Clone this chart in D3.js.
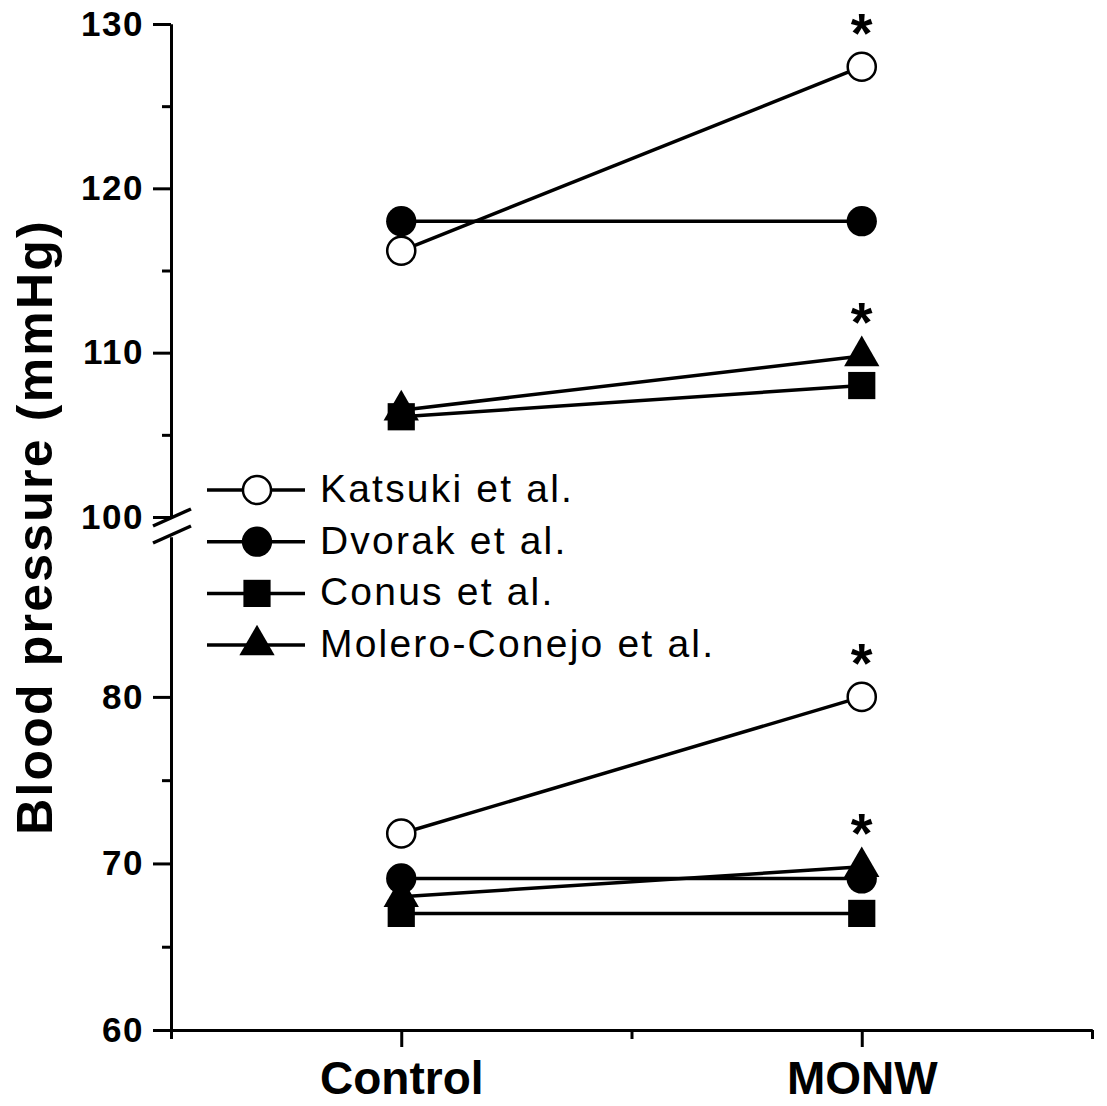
<!DOCTYPE html>
<html>
<head>
<meta charset="utf-8">
<script src="https://cdn.jsdelivr.net/npm/d3@7"></script>
<style>
  body { margin: 0; background: #fff; }
  svg text { font-family: "Liberation Sans", Arial, Helvetica, sans-serif; }
</style>
</head>
<body>
<svg id="chart" width="1107" height="1106"></svg>
<script>
// study names, in legend order
const studies = ["Katsuki et al.", "Dvorak et al.", "Conus et al.", "Molero-Conejo et al."];
const markers = ["openCircle", "circle", "square", "triangle"];
const groups = ["Control", "MONW"];

// systolic (upper panel) and diastolic (lower panel), [Control, MONW]
const systolic = [
  [116.2, 127.4],
  [118.0, 118.0],
  [106.1, 108.0],
  [106.5, 109.8],
];
const diastolic = [
  [71.8, 80.0],
  [69.1, 69.1],
  [67.0, 67.0],
  [68.0, 69.8],
];

// significant changes (study index, panel)
const stars = [
  { study: 0, panel: "sys" },
  { study: 3, panel: "sys" },
  { study: 0, panel: "dia" },
  { study: 3, panel: "dia" },
];

const upperTicks = [100, 110, 120, 130];
const upperMinor = [105, 115, 125];
const lowerTicks = [60, 70, 80];
const lowerMinor = [65, 75];

const svg = d3.select("#chart");

const x = d3.scaleLinear().domain([0.5, 2.5]).range([171, 1092]);
const yUp = d3.scaleLinear().domain([100, 130]).range([517, 24]);
const yLow = d3.scaleLinear().domain([60, 89.6]).range([1030, 537]);

// ---- axes ----
const axisG = svg.append("g");

function styleAxis(g) {
  g.select(".domain").attr("stroke", "#000").attr("stroke-width", 3);
  g.selectAll(".tick line").attr("stroke", "#000").attr("stroke-width", 3);
  g.selectAll(".tick text")
    .attr("fill", "#000")
    .style("font-weight", "bold");
}

const yTickText = (g) => g.selectAll(".tick text")
  .style("font-size", "35px")
  .style("letter-spacing", "1.5px");

axisG.append("g")
  .attr("transform", `translate(${x.range()[0]},0)`)
  .call(d3.axisLeft(yUp).tickValues(upperMinor).tickSize(9).tickSizeOuter(0).tickFormat(""))
  .call(styleAxis);
axisG.append("g")
  .attr("transform", `translate(${x.range()[0]},0)`)
  .call(d3.axisLeft(yUp).tickValues(upperTicks).tickSize(18).tickPadding(9).tickSizeOuter(0))
  .call(styleAxis)
  .call(yTickText);

axisG.append("g")
  .attr("transform", `translate(${x.range()[0]},0)`)
  .call(d3.axisLeft(yLow).tickValues(lowerMinor).tickSize(9).tickSizeOuter(0).tickFormat(""))
  .call(styleAxis);
axisG.append("g")
  .attr("transform", `translate(${x.range()[0]},0)`)
  .call(d3.axisLeft(yLow).tickValues(lowerTicks).tickSize(18).tickPadding(9).tickSizeOuter(0))
  .call(styleAxis)
  .call(yTickText);

axisG.append("g")
  .attr("transform", `translate(0,${yLow(60)})`)
  .call(d3.axisBottom(x).tickValues([0.5, 1.5, 2.5]).tickSize(9).tickSizeOuter(0).tickFormat(""))
  .call(styleAxis);
axisG.append("g")
  .attr("transform", `translate(0,${yLow(60)})`)
  .call(d3.axisBottom(x).tickValues([1, 2]).tickSize(17).tickPadding(14).tickSizeOuter(0)
    .tickFormat((d) => groups[d - 1]))
  .call(styleAxis)
  .call((g) => g.selectAll(".tick text").style("font-size", "46px"));

// axis break slashes
const bx = x.range()[0];
[yUp(100), yLow.range()[1]].forEach((yy, i) => {
  const cy = i === 0 ? yy + 1 : yy - 2;
  axisG.append("line")
    .attr("x1", bx - 18).attr("y1", cy + 8)
    .attr("x2", bx + 20).attr("y2", cy - 9)
    .attr("stroke", "#000").attr("stroke-width", 3.5);
});

// y title
svg.append("text")
  .attr("transform", `translate(52,${(yUp(130) + yLow(60)) / 2}) rotate(-90)`)
  .attr("text-anchor", "middle")
  .style("font-size", "50px")
  .style("font-weight", "bold")
  .style("letter-spacing", "2.2px")
  .text("Blood pressure (mmHg)");

// ---- series ----
const symbolFor = {
  openCircle: d3.symbol(d3.symbolCircle, 620),
  circle: d3.symbol(d3.symbolCircle, 720),
  square: d3.symbol(d3.symbolSquare, 740),
  triangle: d3.symbol(d3.symbolTriangle, 540),
};

function drawMarker(g, kind, cx, cy) {
  g.append("path")
    .attr("d", symbolFor[kind]())
    .attr("transform", `translate(${cx},${cy})`)
    .attr("fill", kind === "openCircle" ? "#fff" : "#000")
    .attr("stroke", "#000")
    .attr("stroke-width", kind === "openCircle" ? 2.5 : 0);
}

const panels = [
  { key: "sys", values: systolic, y: yUp },
  { key: "dia", values: diastolic, y: yLow },
];

const line = (y) => d3.line().x((d, i) => x(i + 1)).y((d) => y(d));

panels.forEach((p) => {
  const g = svg.append("g");
  p.values.forEach((vals) => {
    g.append("path")
      .attr("d", line(p.y)(vals))
      .attr("fill", "none")
      .attr("stroke", "#000")
      .attr("stroke-width", 3.5);
  });
  // draw markers: square, triangle, open circle, filled circle
  [2, 3, 0, 1].forEach((s) => {
    p.values[s].forEach((v, i) => drawMarker(g, markers[s], x(i + 1), p.y(v)));
  });
});

// stars above MONW
stars.forEach((st) => {
  const p = panels.find((q) => q.key === st.panel);
  const vy = p.y(p.values[st.study][1]);
  svg.append("text")
    .attr("x", x(2))
    .attr("y", vy - 46 + 31)
    .attr("text-anchor", "middle")
    .style("font-size", "56px")
    .style("font-weight", "bold")
    .text("*");
});

// ---- legend ----
const legend = svg.append("g");
studies.forEach((name, i) => {
  const ly = 490 + i * 51.7;
  legend.append("line")
    .attr("x1", 207).attr("x2", 305)
    .attr("y1", ly).attr("y2", ly)
    .attr("stroke", "#000").attr("stroke-width", 3.5);
  drawMarker(legend, markers[i], 257, ly);
  legend.append("text")
    .attr("x", 320)
    .attr("y", ly + 12)
    .style("font-size", "39px")
    .style("letter-spacing", "2.2px")
    .text(name);
});
</script>
</body>
</html>
